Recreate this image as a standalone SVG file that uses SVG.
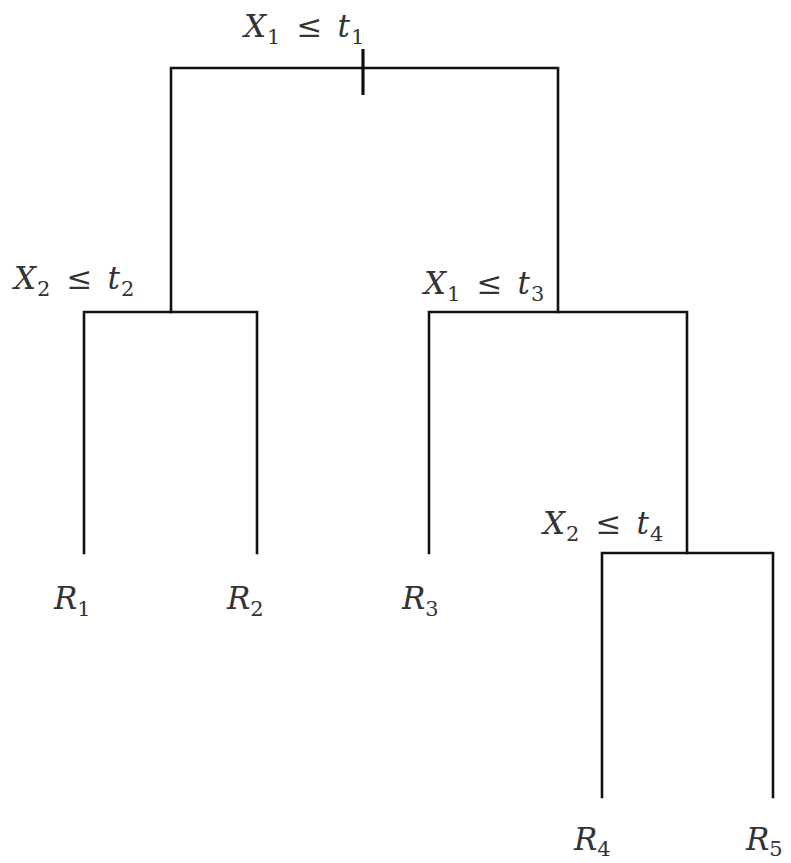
<svg xmlns="http://www.w3.org/2000/svg" width="791" height="863" viewBox="0 0 791 863">
<style>
.e{stroke:#111;stroke-width:2.6;fill:none;stroke-linecap:square}
</style>
<rect width="791" height="863" fill="#fff"/>
<g id="connectors">
<path class="e" d="M171 312 V68 H558 V312"/>
<line x1="363" y1="49" x2="363" y2="95" stroke="#111" stroke-width="3.2"/>
<path class="e" d="M84 553 V312 H257 V553"/>
<path class="e" d="M429 553 V312 H687 V553"/>
<path class="e" d="M602 797 V553 H773 V797"/>
</g>
<g font-family="DejaVu Serif, serif" font-size="31" fill="#333">
<g id="n1"><text x="244" y="37"><tspan font-style="italic">X</tspan><tspan font-size="21" dx="1" dy="7">1</tspan><tspan dy="-7" dx="16">≤</tspan><tspan font-style="italic" dx="15">t</tspan><tspan font-size="21" dx="1" dy="7">1</tspan></text></g>
<g id="n2"><text x="14" y="289"><tspan font-style="italic">X</tspan><tspan font-size="21" dx="1" dy="7">2</tspan><tspan dy="-7" dx="16">≤</tspan><tspan font-style="italic" dx="15">t</tspan><tspan font-size="21" dx="1" dy="7">2</tspan></text></g>
<g id="n3"><text x="424" y="294"><tspan font-style="italic">X</tspan><tspan font-size="21" dx="1" dy="7">1</tspan><tspan dy="-7" dx="16">≤</tspan><tspan font-style="italic" dx="15">t</tspan><tspan font-size="21" dx="1" dy="7">3</tspan></text></g>
<g id="n4"><text x="543" y="534"><tspan font-style="italic">X</tspan><tspan font-size="21" dx="1" dy="7">2</tspan><tspan dy="-7" dx="16">≤</tspan><tspan font-style="italic" dx="15">t</tspan><tspan font-size="21" dx="1" dy="7">4</tspan></text></g>
<g id="r1"><text x="54" y="609"><tspan font-style="italic">R</tspan><tspan font-size="21" dy="7">1</tspan></text></g>
<g id="r2"><text x="227" y="609"><tspan font-style="italic">R</tspan><tspan font-size="21" dy="7">2</tspan></text></g>
<g id="r3"><text x="402" y="609"><tspan font-style="italic">R</tspan><tspan font-size="21" dy="7">3</tspan></text></g>
<g id="r4"><text x="574" y="850"><tspan font-style="italic">R</tspan><tspan font-size="21" dy="6">4</tspan></text></g>
<g id="r5"><text x="746" y="850"><tspan font-style="italic">R</tspan><tspan font-size="21" dy="6">5</tspan></text></g>
</g>
</svg>
